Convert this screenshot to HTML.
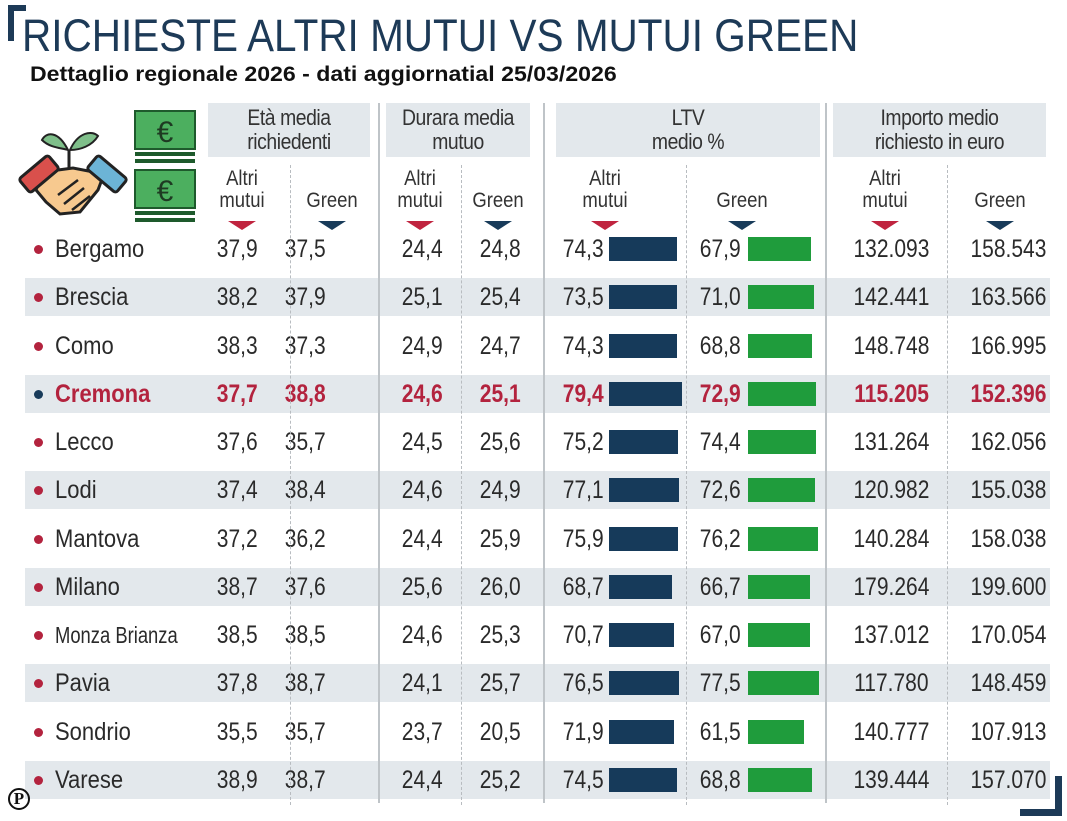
<!DOCTYPE html>
<html><head><meta charset="utf-8">
<style>
*{margin:0;padding:0;box-sizing:border-box}
body{width:1067px;height:821px;background:#fff;position:relative;overflow:hidden;font-family:"Liberation Sans",sans-serif;color:#2a2a2a}
.a{position:absolute}
.title{left:22px;top:10px;font-size:45px;color:#1d3a57;white-space:nowrap;transform:scaleX(0.9);transform-origin:left}
.sub{left:30px;top:63px;font-size:21px;font-weight:bold;color:#111;white-space:nowrap;transform:scaleX(1.1);transform-origin:left}
.hb{background:#e3e8ec;top:103px;height:54px;text-align:center;font-size:22px;line-height:24px;color:#333;padding-top:3px;letter-spacing:-0.5px}
.hb div{transform:scaleX(.88)}
.ch{font-size:21px;line-height:22px;text-align:center;color:#333;transform:scaleX(.88)}
.tri{width:0;height:0;border-left:14px solid transparent;border-right:14px solid transparent;border-top:9px solid #c0243f}
.tri.b{border-top-color:#183b5a}
.row{left:0;width:1067px;height:38px}
.row.s:before{content:"";position:absolute;left:25px;right:17px;top:0;bottom:0;background:#e3e8ec}
.row span{position:absolute;top:4px;font-size:25px;line-height:30px;white-space:nowrap;transform:scaleX(.84);transform-origin:right}
.row .n{left:55px;transform-origin:left;transform:scaleX(.88)}
.row .d{left:34px;top:15px;width:9px;height:9px;border-radius:50%;background:#b3233e}
.bar{position:absolute;top:7px;height:24px}
.bd{background:#163a5a;left:609px}
.bg{background:#1f9c3c;left:748px}
.hl span{color:#b3233e;font-weight:bold}
.vs{top:103px;width:2px;height:700px;background:#bfc4c8}
.vd{top:165px;width:0;height:640px;border-left:1.5px dashed #b8bcc0}
</style></head><body>
<div class="a" style="left:8px;top:5px;width:6px;height:36px;background:#1d3a57"></div>
<div class="a" style="left:8px;top:5px;width:18px;height:6px;background:#1d3a57"></div>
<div class="a title">RICHIESTE ALTRI MUTUI VS MUTUI GREEN</div>
<div class="a sub">Dettaglio regionale 2026 - dati aggiornatial 25/03/2026</div>

<svg class="a" style="left:18px;top:110px" width="110" height="110" viewBox="0 0 110 110">
<path d="M50 40 C40 20 28 22 24 30 C32 38 44 38 50 40Z" fill="#7fbf8a" stroke="#222" stroke-width="2"/>
<path d="M52 40 C60 22 74 20 80 26 C74 36 62 40 52 40Z" fill="#7fbf8a" stroke="#222" stroke-width="2"/>
<line x1="51" y1="40" x2="51" y2="62" stroke="#222" stroke-width="3"/>
<path d="M25 62 L55 58 L86 64 L80 80 L62 102 L42 104 L28 92 L18 80Z" fill="#f7c98f" stroke="#222" stroke-width="3"/>
<path d="M40 85 L60 70 M46 94 L66 78 M54 100 L72 86" stroke="#222" stroke-width="2.5"/>
<rect x="2" y="55" width="38" height="18" rx="3" fill="#d9504c" stroke="#222" stroke-width="3" transform="rotate(-40 21 64)"/>
<rect x="70" y="55" width="38" height="18" rx="3" fill="#6cb4d6" stroke="#222" stroke-width="3" transform="rotate(40 89 64)"/>
</svg>
<svg class="a" style="left:134px;top:110px" width="62" height="116" viewBox="0 0 62 116">
<rect x="1" y="1" width="60" height="38" fill="#4caf5f" stroke="#1e5a2c" stroke-width="2"/>
<text x="31" y="32" font-size="30" text-anchor="middle" fill="#1e3a22" font-family="Liberation Sans">€</text>
<rect x="1" y="42" width="60" height="4" fill="#1e5a2c"/><rect x="1" y="49" width="60" height="4" fill="#1e5a2c"/>
<rect x="1" y="60" width="60" height="38" fill="#4caf5f" stroke="#1e5a2c" stroke-width="2"/>
<text x="31" y="91" font-size="30" text-anchor="middle" fill="#1e3a22" font-family="Liberation Sans">€</text>
<rect x="1" y="101" width="60" height="4" fill="#1e5a2c"/><rect x="1" y="108" width="60" height="4" fill="#1e5a2c"/>
</svg>

<div class="a hb" style="left:208px;width:162px"><div>Età media<br>richiedenti</div></div>
<div class="a hb" style="left:386px;width:144px"><div>Durara media<br>mutuo</div></div>
<div class="a hb" style="left:556px;width:264px"><div>LTV<br>medio %</div></div>
<div class="a hb" style="left:833px;width:213px"><div>Importo medio<br>richiesto in euro</div></div>

<div class="a ch" style="left:212px;top:168px;width:60px">Altri<br>mutui</div>
<div class="a ch" style="left:300px;top:190px;width:64px">Green</div>
<div class="a ch" style="left:390px;top:168px;width:60px">Altri<br>mutui</div>
<div class="a ch" style="left:466px;top:190px;width:64px">Green</div>
<div class="a ch" style="left:575px;top:168px;width:60px">Altri<br>mutui</div>
<div class="a ch" style="left:710px;top:190px;width:64px">Green</div>
<div class="a ch" style="left:855px;top:168px;width:60px">Altri<br>mutui</div>
<div class="a ch" style="left:968px;top:190px;width:64px">Green</div>
<div class="a tri" style="left:228px;top:221px"></div>
<div class="a tri b" style="left:318px;top:221px"></div>
<div class="a tri" style="left:406px;top:221px"></div>
<div class="a tri b" style="left:484px;top:221px"></div>
<div class="a tri" style="left:591px;top:221px"></div>
<div class="a tri b" style="left:728px;top:221px"></div>
<div class="a tri" style="left:871px;top:221px"></div>
<div class="a tri b" style="left:986px;top:221px"></div>

<div class="a row" style="top:230px"><i class="d a"></i><span class="n">Bergamo</span><span style="right:809px">37,9</span><span style="right:741px">37,5</span><span style="right:624px">24,4</span><span style="right:546px">24,8</span><span style="right:463px">74,3</span><div class="bar bd" style="width:68px"></div><span style="right:326px">67,9</span><div class="bar bg" style="width:63px"></div><span style="right:138px">132.093</span><span style="right:21px">158.543</span></div>
<div class="a row s" style="top:278px"><i class="d a"></i><span class="n">Brescia</span><span style="right:809px">38,2</span><span style="right:741px">37,9</span><span style="right:624px">25,1</span><span style="right:546px">25,4</span><span style="right:463px">73,5</span><div class="bar bd" style="width:68px"></div><span style="right:326px">71,0</span><div class="bar bg" style="width:66px"></div><span style="right:138px">142.441</span><span style="right:21px">163.566</span></div>
<div class="a row" style="top:327px"><i class="d a"></i><span class="n">Como</span><span style="right:809px">38,3</span><span style="right:741px">37,3</span><span style="right:624px">24,9</span><span style="right:546px">24,7</span><span style="right:463px">74,3</span><div class="bar bd" style="width:68px"></div><span style="right:326px">68,8</span><div class="bar bg" style="width:64px"></div><span style="right:138px">148.748</span><span style="right:21px">166.995</span></div>
<div class="a row s hl" style="top:375px"><i class="d a" style="background:#183b5a"></i><span class="n">Cremona</span><span style="right:809px">37,7</span><span style="right:741px">38,8</span><span style="right:624px">24,6</span><span style="right:546px">25,1</span><span style="right:463px">79,4</span><div class="bar bd" style="width:73px"></div><span style="right:326px">72,9</span><div class="bar bg" style="width:68px"></div><span style="right:138px">115.205</span><span style="right:21px">152.396</span></div>
<div class="a row" style="top:423px"><i class="d a"></i><span class="n">Lecco</span><span style="right:809px">37,6</span><span style="right:741px">35,7</span><span style="right:624px">24,5</span><span style="right:546px">25,6</span><span style="right:463px">75,2</span><div class="bar bd" style="width:69px"></div><span style="right:326px">74,4</span><div class="bar bg" style="width:68px"></div><span style="right:138px">131.264</span><span style="right:21px">162.056</span></div>
<div class="a row s" style="top:471px"><i class="d a"></i><span class="n">Lodi</span><span style="right:809px">37,4</span><span style="right:741px">38,4</span><span style="right:624px">24,6</span><span style="right:546px">24,9</span><span style="right:463px">77,1</span><div class="bar bd" style="width:70px"></div><span style="right:326px">72,6</span><div class="bar bg" style="width:67px"></div><span style="right:138px">120.982</span><span style="right:21px">155.038</span></div>
<div class="a row" style="top:520px"><i class="d a"></i><span class="n">Mantova</span><span style="right:809px">37,2</span><span style="right:741px">36,2</span><span style="right:624px">24,4</span><span style="right:546px">25,9</span><span style="right:463px">75,9</span><div class="bar bd" style="width:69px"></div><span style="right:326px">76,2</span><div class="bar bg" style="width:70px"></div><span style="right:138px">140.284</span><span style="right:21px">158.038</span></div>
<div class="a row s" style="top:568px"><i class="d a"></i><span class="n">Milano</span><span style="right:809px">38,7</span><span style="right:741px">37,6</span><span style="right:624px">25,6</span><span style="right:546px">26,0</span><span style="right:463px">68,7</span><div class="bar bd" style="width:63px"></div><span style="right:326px">66,7</span><div class="bar bg" style="width:62px"></div><span style="right:138px">179.264</span><span style="right:21px">199.600</span></div>
<div class="a row" style="top:616px"><i class="d a"></i><span class="n" style="font-size:23px;transform:scaleX(.8)">Monza Brianza</span><span style="right:809px">38,5</span><span style="right:741px">38,5</span><span style="right:624px">24,6</span><span style="right:546px">25,3</span><span style="right:463px">70,7</span><div class="bar bd" style="width:65px"></div><span style="right:326px">67,0</span><div class="bar bg" style="width:62px"></div><span style="right:138px">137.012</span><span style="right:21px">170.054</span></div>
<div class="a row s" style="top:664px"><i class="d a"></i><span class="n">Pavia</span><span style="right:809px">37,8</span><span style="right:741px">38,7</span><span style="right:624px">24,1</span><span style="right:546px">25,7</span><span style="right:463px">76,5</span><div class="bar bd" style="width:70px"></div><span style="right:326px">77,5</span><div class="bar bg" style="width:71px"></div><span style="right:138px">117.780</span><span style="right:21px">148.459</span></div>
<div class="a row" style="top:713px"><i class="d a"></i><span class="n">Sondrio</span><span style="right:809px">35,5</span><span style="right:741px">35,7</span><span style="right:624px">23,7</span><span style="right:546px">20,5</span><span style="right:463px">71,9</span><div class="bar bd" style="width:65px"></div><span style="right:326px">61,5</span><div class="bar bg" style="width:56px"></div><span style="right:138px">140.777</span><span style="right:21px">107.913</span></div>
<div class="a row s" style="top:761px"><i class="d a"></i><span class="n">Varese</span><span style="right:809px">38,9</span><span style="right:741px">38,7</span><span style="right:624px">24,4</span><span style="right:546px">25,2</span><span style="right:463px">74,5</span><div class="bar bd" style="width:68px"></div><span style="right:326px">68,8</span><div class="bar bg" style="width:64px"></div><span style="right:138px">139.444</span><span style="right:21px">157.070</span></div>

<div class="a vs" style="left:378px"></div>
<div class="a vs" style="left:543px"></div>
<div class="a vs" style="left:825px"></div>
<div class="a vd" style="left:290px"></div>
<div class="a vd" style="left:461px"></div>
<div class="a vd" style="left:686px"></div>
<div class="a vd" style="left:947px"></div>

<div class="a" style="left:8px;top:788px;width:22px;height:22px;border:2px solid #111;border-radius:50%;font-family:'Liberation Serif',serif;font-weight:bold;font-size:17px;line-height:18px;text-align:center;color:#111">P</div>
<div class="a" style="left:1055px;top:776px;width:7px;height:40px;background:#1d3a57"></div>
<div class="a" style="left:1020px;top:809px;width:42px;height:7px;background:#1d3a57"></div>
</body></html>
